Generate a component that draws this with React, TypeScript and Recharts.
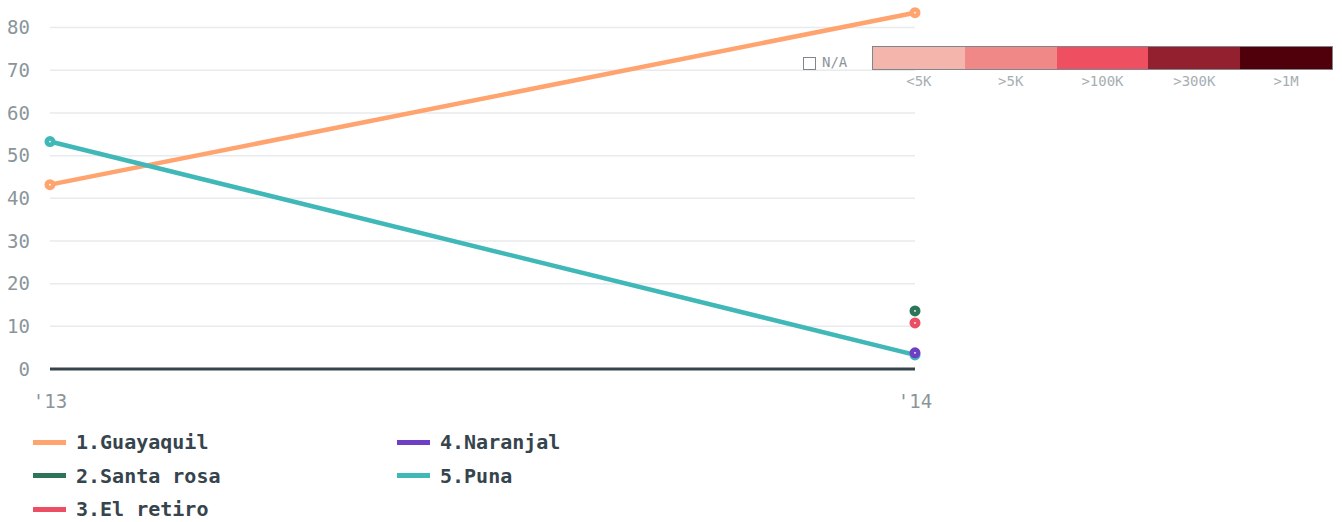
import { LineChart, Line, XAxis, YAxis, ReferenceLine } from "recharts";

const years = ["'13", "'14"];
const guayaquil = [43.2, 83.5];
const santaRosa = [null, 13.6];
const elRetiro = [null, 10.8];
const naranjal = [null, 3.8];
const puna = [53.3, 3.3];
const yTicks = [0, 10, 20, 30, 40, 50, 60, 70, 80];

const series = [
  { key: "guayaquil", name: "1.Guayaquil", color: "#ffa36f", values: guayaquil },
  { key: "santaRosa", name: "2.Santa rosa", color: "#2d7558", values: santaRosa },
  { key: "elRetiro", name: "3.El retiro", color: "#ec4f64", values: elRetiro },
  { key: "naranjal", name: "4.Naranjal", color: "#6e3fc4", values: naranjal },
  { key: "puna", name: "5.Puna", color: "#40b8b8", values: puna },
];
// draw order (purple dot sits over Puna's)
const drawOrder = ["guayaquil", "santaRosa", "elRetiro", "puna", "naranjal"];

const scaleLabels = ["<5K", ">5K", ">100K", ">300K", ">1M"];
const scaleColors = ["#f4b6ac", "#f08888", "#ef5061", "#93202f", "#4f000b"];

const data = years.map((y, i) => {
  const row: Record<string, string | number | null> = { year: y };
  series.forEach((s) => {
    row[s.key] = s.values[i];
  });
  return row;
});

const FONT = "'DejaVu Sans Mono', monospace";
const GREY = "#8a959b";

function Dot(props: any) {
  const { cx, cy, stroke, value } = props;
  if (value == null || cx == null || cy == null) return null;
  return (
    <g>
      <circle cx={cx} cy={cy} r={5.5} fill={stroke} />
      <circle cx={cx} cy={cy} r={0.9} fill="#fff" />
    </g>
  );
}

export default function App() {
  return (
    <div style={{ position: "absolute", left: 0, top: 0, width: 1342, height: 522, fontFamily: FONT, background: "#fff" }}>
      <LineChart
        width={940}
        height={420}
        data={data}
        margin={{ top: 2, right: 25, left: 0, bottom: 11 }}
      >
        <XAxis
          dataKey="year"
          axisLine={false}
          tickLine={false}
          tickSize={0}
          tickMargin={26}
          height={40}
          tick={{ fill: GREY, fontSize: 19, fontFamily: FONT }}
        />
        <YAxis
          domain={[0, 86]}
          ticks={yTicks}
          axisLine={false}
          tickLine={false}
          tickSize={0}
          tickMargin={20}
          width={50}
          tick={{ fill: GREY, fontSize: 19, fontFamily: FONT }}
        />
        {yTicks.slice(1).map((t) => (
          <ReferenceLine key={t} y={t} stroke="#e8eaeb" strokeWidth={1.5} />
        ))}
        <ReferenceLine y={0} stroke="#36444d" strokeWidth={3} />
        {drawOrder.map((k) => {
          const s = series.find((x) => x.key === k)!;
          return (
            <Line
              key={k}
              dataKey={k}
              stroke={s.color}
              strokeWidth={4.5}
              dot={<Dot />}
              activeDot={false}
              isAnimationActive={false}
              connectNulls={false}
            />
          );
        })}
      </LineChart>

      {/* colour scale */}
      <div style={{ position: "absolute", left: 803, top: 57, width: 11, height: 11, border: "1.5px solid #7d878c" }} />
      <div style={{ position: "absolute", left: 822, top: 54, fontSize: 14, color: GREY }}>N/A</div>
      <div style={{ position: "absolute", left: 872, top: 46, width: 459, height: 22, border: "1.5px solid #7d878c", display: "flex" }}>
        {scaleColors.map((c) => (
          <div key={c} style={{ flex: 1, background: c }} />
        ))}
      </div>
      <div style={{ position: "absolute", left: 873, top: 73, width: 459, display: "flex" }}>
        {scaleLabels.map((l) => (
          <div key={l} style={{ flex: 1, textAlign: "center", fontSize: 14, color: "#a6aeb2" }}>{l}</div>
        ))}
      </div>

      {/* legend */}
      {series.map((s, i) => {
        const col = i < 3 ? 0 : 1;
        const row = i < 3 ? i : i - 3;
        const left = col === 0 ? 33 : 397;
        const top = 430 + row * 33.5;
        return (
          <div key={s.key} style={{ position: "absolute", left, top, display: "flex", alignItems: "center", height: 24 }}>
            <div style={{ width: 33, height: 5, background: s.color, marginRight: 10 }} />
            <span style={{ fontSize: 20, fontWeight: "bold", color: "#36444d", lineHeight: "24px" }}>{s.name}</span>
          </div>
        );
      })}
    </div>
  );
}
